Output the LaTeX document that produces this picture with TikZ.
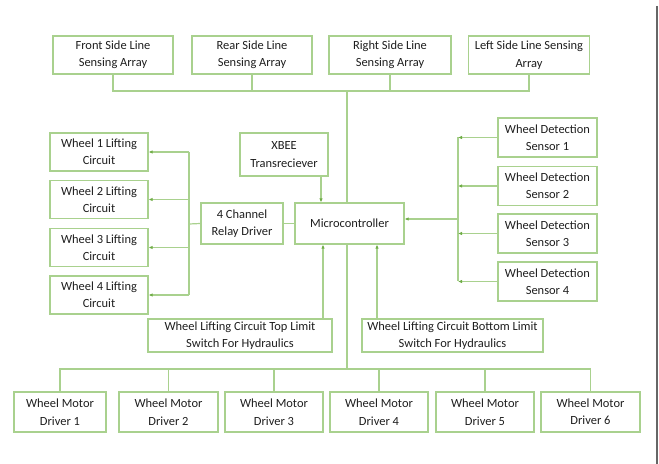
\documentclass[tikz,border=0pt]{standalone}
\usepackage{fontspec}
\setmainfont{Carlito}
\usetikzlibrary{arrows.meta}
\definecolor{boxline}{HTML}{A9D18E}
\definecolor{tipgreen}{HTML}{70AD47}
\definecolor{txt}{HTML}{1E1E1E}

\begin{document}
\begin{tikzpicture}[x=1bp,y=-1bp,
  box/.style={draw=boxline, line width=1.2bp, align=center, inner sep=1bp,
    minimum height=#1, text=txt, font=\fontsize{12.5}{17.5}\selectfont},
  box/.default=38bp,
  wire/.style={draw=boxline, line width=1.2bp},
  arr/.style={wire, -{Latex[length=4bp,width=3.5bp,fill=tipgreen,color=tipgreen]}}]
\useasboundingbox (0,0) rectangle (659,464);
\draw[black!60, line width=1.2bp] (657,6) -- (657,464);
% sensing arrays
\node[box, minimum width=120bp] (front) at (113,55) {Front Side Line\\Sensing Array};
\node[box, minimum width=120bp] (rear) at (252,55) {Rear Side Line\\Sensing Array};
\node[box, minimum width=122bp] (right) at (390,55) {Right Side Line\\Sensing Array};
\node[box, minimum width=121bp] (left) at (529,55) {Left Side Line Sensing\\Array};
% centre
\node[box=43bp, minimum width=88bp] (xbee) at (284,154.5) {XBEE\\Transreciever};
\node[box=41bp, minimum width=82bp] (relay) at (242,223.5) {4 Channel\\Relay Driver};
\node[box=41bp, minimum width=109bp] (mcu) at (349.5,223.5) {Microcontroller};
% lifting circuits
\node[box, minimum width=98bp] (lift1) at (99,152) {Wheel 1 Lifting\\Circuit};
\node[box, minimum width=98bp] (lift2) at (99,199.5) {Wheel 2 Lifting\\Circuit};
\node[box, minimum width=98bp] (lift3) at (99,247.5) {Wheel 3 Lifting\\Circuit};
\node[box, minimum width=98bp] (lift4) at (99,295) {Wheel 4 Lifting\\Circuit};
% detection sensors
\node[box=39bp, minimum width=99bp] (sen1) at (547.5,137.5) {Wheel Detection\\Sensor 1};
\node[box=39bp, minimum width=99bp] (sen2) at (547.5,186) {Wheel Detection\\Sensor 2};
\node[box=39bp, minimum width=99bp] (sen3) at (547.5,233.5) {Wheel Detection\\Sensor 3};
\node[box=39bp, minimum width=99bp] (sen4) at (547.5,281.5) {Wheel Detection\\Sensor 4};
% limit switches
\node[box=33bp, minimum width=184bp] (toplim) at (240,335.5) {Wheel Lifting Circuit Top Limit\\Switch For Hydraulics};
\node[box=33bp, minimum width=181bp] (botlim) at (452.5,335.5) {Wheel Lifting Circuit Bottom Limit\\Switch For Hydraulics};
% motor drivers
\node[box=40bp, minimum width=92bp] (drv1) at (60,412) {Wheel Motor\\Driver 1};
\node[box=40bp, minimum width=99bp] (drv2) at (168.5,412) {Wheel Motor\\Driver 2};
\node[box=40bp, minimum width=98bp] (drv3) at (274,412) {Wheel Motor\\Driver 3};
\node[box=40bp, minimum width=98bp] (drv4) at (379,412) {Wheel Motor\\Driver 4};
\node[box=40bp, minimum width=98bp] (drv5) at (485,412) {Wheel Motor\\Driver 5};
\node[box=40bp, minimum width=99bp] (drv6) at (590.5,412) {Wheel Motor\\Driver 6};
% bus points
\coordinate (topbus) at (347,91);
\coordinate (botbus) at (347,369);
\coordinate (lbus) at (189,224);
\coordinate (rbus) at (458,219);
\coordinate (xb) at (321,0);
\coordinate (tl) at (323,0);
\coordinate (bl) at (377,0);
% top and bottom buses
\draw[wire] (front.south) |- (left.south |- topbus) -- (left.south);
\draw[wire] (rear.south) -- (rear.south |- topbus);
\draw[wire] (right.south) -- (right.south |- topbus);
\draw[wire] (topbus) -- (topbus |- mcu.north);
\draw[wire] (mcu.south -| botbus) -- (botbus);
\draw[wire] (drv1.north) |- (drv6.north |- botbus) -- (drv6.north);
\foreach \i in {2,...,5}
  \draw[wire] (drv\i.north) -- (drv\i.north |- botbus);
% relay side
\draw[wire] (relay) -- (mcu);
\draw[wire] (relay.west) -- (lbus);
\draw[wire] (lift1.east -| lbus) -- (lift4.east -| lbus);
\foreach \i in {1,...,4}
  \draw[arr] (lift\i.east -| lbus) -- (lift\i.east);
% sensor side
\draw[wire] (sen1.west -| rbus) -- (sen4.west -| rbus);
\foreach \i in {1,...,4}
  \draw[arr] (sen\i.west) -- (sen\i.west -| rbus);
\draw[arr] (rbus) -- (mcu.east |- rbus);
% inputs to the controller
\draw[arr] (xbee.south -| xb) -- (mcu.north -| xb);
\draw[arr] (toplim.north -| tl) -- (mcu.south -| tl);
\draw[arr] (botlim.north -| bl) -- (mcu.south -| bl);
\end{tikzpicture}
\end{document}
